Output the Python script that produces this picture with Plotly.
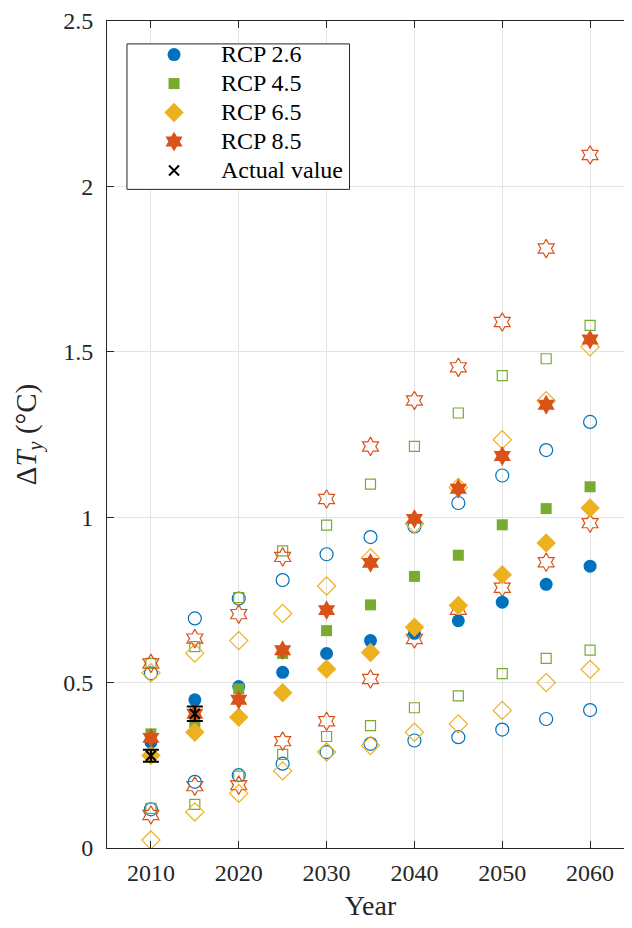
import plotly.graph_objects as go

years = [2010, 2015, 2020, 2025, 2030, 2035, 2040, 2045, 2050, 2055, 2060]

rcp26_mean = [0.320, 0.448, 0.488, 0.531, 0.588, 0.627, 0.649, 0.687, 0.743, 0.797, 0.852]
rcp26_upper = [0.528, 0.694, 0.754, 0.810, 0.888, 0.940, 0.972, 1.043, 1.126, 1.203, 1.288]
rcp26_lower = [0.117, 0.200, 0.220, 0.255, 0.290, 0.315, 0.325, 0.335, 0.358, 0.390, 0.417]

rcp45_mean = [0.345, 0.377, 0.481, 0.588, 0.657, 0.735, 0.821, 0.885, 0.977, 1.026, 1.092]
rcp45_upper = [0.558, 0.609, 0.757, 0.898, 0.976, 1.100, 1.214, 1.315, 1.428, 1.479, 1.580]
rcp45_lower = [0.120, 0.132, 0.217, 0.283, 0.337, 0.370, 0.424, 0.460, 0.527, 0.573, 0.598]

rcp65_mean = [0.280, 0.350, 0.395, 0.469, 0.541, 0.591, 0.667, 0.733, 0.826, 0.922, 1.028]
rcp65_upper = [0.530, 0.589, 0.627, 0.709, 0.792, 0.877, 0.980, 1.090, 1.234, 1.352, 1.515]
rcp65_lower = [0.024, 0.109, 0.165, 0.233, 0.290, 0.310, 0.350, 0.375, 0.416, 0.500, 0.540]

rcp85_mean = [0.333, 0.406, 0.448, 0.598, 0.719, 0.862, 0.995, 1.086, 1.185, 1.340, 1.537]
rcp85_upper = [0.558, 0.633, 0.707, 0.880, 1.055, 1.214, 1.353, 1.453, 1.590, 1.812, 2.095]
rcp85_lower = [0.100, 0.187, 0.190, 0.323, 0.383, 0.511, 0.632, 0.720, 0.787, 0.864, 0.982]

actual_years = [2010, 2015]
actual_values = [0.279, 0.406]
actual_errors = [0.018, 0.022]

x_ticks = [2010, 2020, 2030, 2040, 2050, 2060]

FONT = "Liberation Serif, Times New Roman, serif"
AX = "#262626"


def leg(txt):
    return "<span style='font-size:24px'>" + txt + "</span>"


series = [
    ("RCP 2.6", "#0072BD", "circle", 13, 13, rcp26_mean, rcp26_upper, rcp26_lower),
    ("RCP 4.5", "#77AC30", "square", 11, 10, rcp45_mean, rcp45_upper, rcp45_lower),
    ("RCP 6.5", "#EDB120", "diamond", 15, 14, rcp65_mean, rcp65_upper, rcp65_lower),
    ("RCP 8.5", "#D95319", "hexagram", 15, 14, rcp85_mean, rcp85_upper, rcp85_lower),
]

fig = go.Figure()

for name, color, sym, fsize, osize, mean, upper, lower in series:
    for vals in (upper, lower):
        fig.add_trace(go.Scatter(
            x=years, y=vals, mode="markers", showlegend=False,
            marker=dict(symbol=sym + "-open", size=osize, color=color,
                        line=dict(color=color, width=1.2)),
        ))
for name, color, sym, fsize, osize, mean, upper, lower in series:
    fig.add_trace(go.Scatter(
        x=years, y=mean, mode="markers", name=leg(name),
        marker=dict(symbol=sym, size=fsize, color=color, line=dict(width=0)),
    ))

fig.add_trace(go.Scatter(
    x=actual_years, y=actual_values, mode="markers", name=leg("Actual value"),
    marker=dict(symbol="x-thin", size=10, color="black", line=dict(color="black", width=2)),
    error_y=dict(type="data", array=actual_errors, visible=True, color="black",
                 thickness=2, width=8),
))

axis_common = dict(
    showline=True, linecolor=AX, linewidth=1, mirror="ticks",
    ticks="inside", ticklen=7, tickcolor=AX, tickwidth=1,
    showgrid=True, gridcolor="#e3e3e3", gridwidth=1, zeroline=False,
    tickfont=dict(family=FONT, size=24, color=AX),
    ticklabeloverflow="allow",
)

# The page body adds an 8px margin; the figure is sized so the plot area
# lands at x 107..635, y 18..848 in the window.
fig.update_layout(
    width=627, height=920,
    margin=dict(l=99, r=0, t=10, b=80),
    paper_bgcolor="white", plot_bgcolor="white",
    font=dict(family=FONT, color=AX),
    xaxis=dict(range=[2005, 2065], tickvals=x_ticks,
               title=dict(text="Year", font=dict(family=FONT, size=28, color=AX), standoff=10),
               ticklabelstandoff=3, **axis_common),
    yaxis=dict(range=[0, 2.5], dtick=0.5,
               title=dict(text="Δ<i>T</i><sub><i>y</i></sub> (°C)",
                          font=dict(family=FONT, size=29, color=AX), standoff=18),
               ticklabelstandoff=8, **axis_common),
    legend=dict(x=0.038, y=0.983, xanchor="left", yanchor="top",
                bgcolor="rgba(0,0,0,0)", borderwidth=0,
                font=dict(family=FONT, size=20, color="black"),
                itemwidth=84),
    shapes=[dict(type="rect", xref="paper", yref="paper",
                 x0=0.0379, x1=0.4602, y0=0.7964, y1=0.9723,
                 fillcolor="white", line=dict(color=AX, width=1), layer="above")],
)

fig.write_html("out.html")
